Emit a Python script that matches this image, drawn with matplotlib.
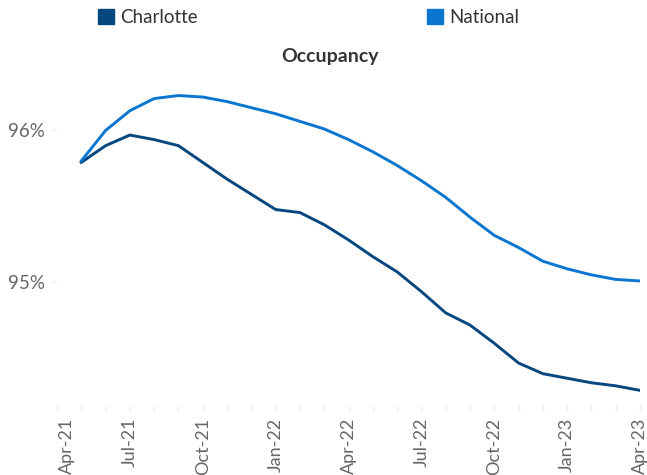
import matplotlib
matplotlib.use("Agg")
import matplotlib.pyplot as plt
from matplotlib.patches import Patch
from matplotlib.transforms import ScaledTranslation

months = ["May-21","Jun-21","Jul-21","Aug-21","Sep-21","Oct-21","Nov-21","Dec-21",
          "Jan-22","Feb-22","Mar-22","Apr-22","May-22","Jun-22","Jul-22","Aug-22",
          "Sep-22","Oct-22","Nov-22","Dec-22","Jan-23","Feb-23","Mar-23","Apr-23"]
charlotte = [95.79, 95.90, 95.97, 95.94, 95.90, 95.79, 95.68, 95.58,
             95.48, 95.46, 95.38, 95.28, 95.17, 95.07, 94.94, 94.80,
             94.72, 94.60, 94.47, 94.40, 94.37, 94.34, 94.32, 94.29]
national = [95.80, 96.00, 96.13, 96.21, 96.23, 96.22, 96.19, 96.15,
            96.11, 96.06, 96.01, 95.94, 95.86, 95.77, 95.67, 95.56,
            95.43, 95.31, 95.23, 95.14, 95.09, 95.05, 95.02, 95.01]
tick_labels = ["Apr-21","Jul-21","Oct-21","Jan-22","Apr-22","Jul-22","Oct-22","Jan-23","Apr-23"]
y_ticks = [95, 96]
y_tick_labels = ["95%", "96%"]

c_char = "#06477f"
c_nat = "#0a76cf"
fam = ["Lato", "DejaVu Sans"]

fig = plt.figure(figsize=(6.47, 4.75), dpi=100)
ax = fig.add_axes([0.0881, 0.1474, 0.9011, 0.7059])

x = list(range(1, len(months) + 1))
ax.plot(x, charlotte, color=c_char, lw=2.1, solid_joinstyle="round")
ax.plot(x, national, color=c_nat, lw=2.1, solid_joinstyle="round")

ax.set_xlim(0, 24)
ax.set_ylim(94.194, 96.4)
ax.set_xticks(range(0, 25, 3))
ax.set_xticklabels(tick_labels, rotation=90, fontsize=13, family=fam, color="#666666")
ax.set_xticks(range(0, 25), minor=True)
ax.set_yticks(y_ticks)
ax.set_yticklabels(y_tick_labels, fontsize=13.5, family=fam, color="#666666")
ax.tick_params(axis="both", which="both", color="#eeeeee", length=4, width=1)
ax.tick_params(axis="x", pad=5)
ax.tick_params(axis="y", pad=5)
for s in ax.spines.values():
    s.set_visible(False)

# Excel nudges the first category label inward
first = ax.get_xticklabels()[0]
first.set_transform(first.get_transform() + ScaledTranslation(10 / 100, 0, fig.dpi_scale_trans))

fig.text(0.510, 0.882, "Occupancy", ha="center", va="center", fontsize=14,
         fontweight="bold", family=fam, color="#333333")

handles = [Patch(facecolor=c_char, edgecolor=c_char), Patch(facecolor=c_nat, edgecolor=c_nat)]
fig.legend(handles, ["Charlotte", "National"], ncol=2, loc="upper left",
           bbox_to_anchor=(98 / 647, 1 - 9 / 475), frameon=False,
           prop={"family": fam, "size": 13.5},
           borderpad=0, borderaxespad=0,
           handlelength=0.85, handleheight=0.85, handletextpad=0.35, columnspacing=12.2,
           labelcolor="#333333")

fig.savefig("out.png", dpi=100)
